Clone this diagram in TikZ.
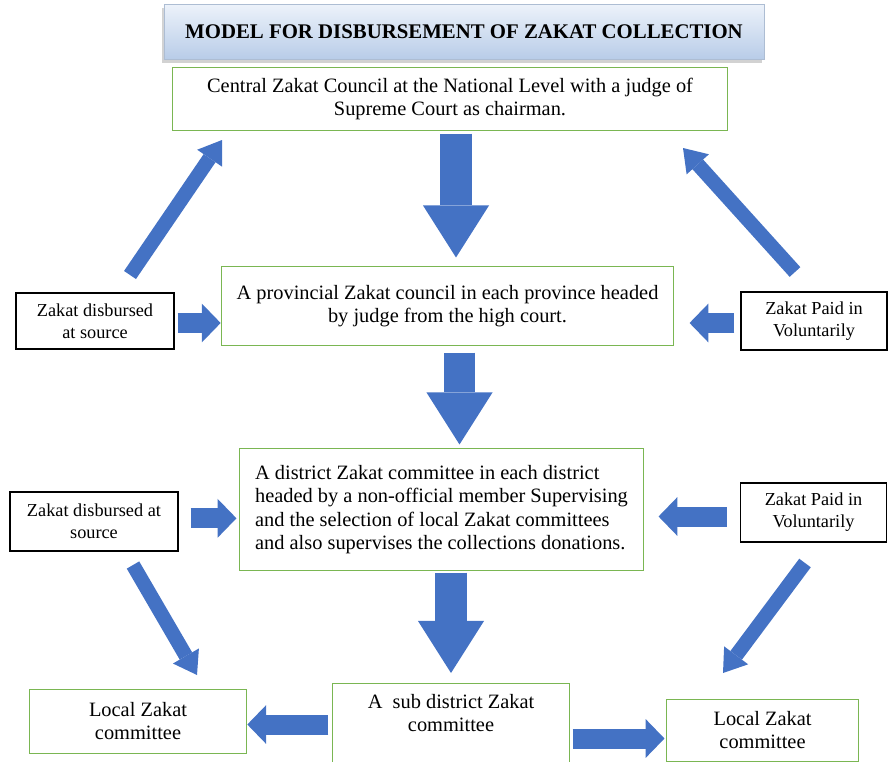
\documentclass[tikz,border=0pt]{standalone}
\usepackage{fontspec}
\setmainfont{Liberation Serif}
\usetikzlibrary{arrows.meta,shadows}
\definecolor{arrowblue}{RGB}{68,114,196}
\definecolor{boxgreen}{RGB}{122,182,82}
\definecolor{titletop}{RGB}{236,242,250}
\definecolor{titlebottom}{RGB}{184,204,232}

\begin{document}
\begin{tikzpicture}[x=0.025cm, y=-0.025cm,
    font=\fontsize{14.5}{16.5}\selectfont,
    title_box/.style={rectangle, draw=titlebottom!80!gray, line width=0.6pt, top color=titletop, bottom color=titlebottom,
        drop shadow={shadow xshift=-0.06cm, shadow yshift=-0.08cm, fill=black!35}, font=\fontsize{14.8}{16}\selectfont\bfseries},
    green_box/.style={rectangle, draw=boxgreen, line width=0.7pt, align=center, fill=white},
    black_box/.style={rectangle, draw=black, line width=0.9pt, align=center, fill=white, font=\fontsize{13}{15.5}\selectfont},
    big_arrow/.style={draw=arrowblue, line width=0.78cm, -{Triangle[length=1.3cm, width=1.65cm, line width=0pt]}},
    mid_arrow/.style={draw=arrowblue, line width=0.5cm, -{Triangle[length=0.47cm, width=0.97cm, line width=0pt]}},
    thin_arrow/.style={draw=arrowblue, line width=0.36cm, -{Triangle[length=0.55cm, width=0.75cm, line width=0pt]}}]
    \useasboundingbox (0,0) rectangle (888,762);

    \node[title_box, minimum width=15cm, minimum height=1.375cm] (title) at (464,32) {MODEL FOR DISBURSEMENT OF ZAKAT COLLECTION};

    \node[green_box, minimum width=13.85cm, minimum height=1.55cm] (central) at (450,99) {Central Zakat Council at the National Level with a judge of\\Supreme Court as chairman.};
    \node[green_box, minimum width=11.275cm, minimum height=1.95cm] (prov) at (447.5,306) {A provincial Zakat council in each province headed\\by judge from the high court.};
    \node[black_box, minimum width=3.95cm, minimum height=1.4cm] (left1) at (95,321) {Zakat disbursed\\at source};
    \node[black_box, minimum width=3.65cm, minimum height=1.45cm] (right1) at (814,321) {Zakat Paid in\\Voluntarily};

    \node[green_box, align=left, minimum width=10.075cm, minimum height=3.025cm] (district) at (441.5,509.5) {A district Zakat committee in each district\\headed by a non-official member Supervising\\and the selection of local Zakat committees\\and also supervises the collections donations.};
    \node[black_box, minimum width=4.2cm, minimum height=1.475cm] (left2) at (94,521.5) {Zakat disbursed at\\source};
    \node[black_box, minimum width=3.65cm, minimum height=1.475cm] (right2) at (813.5,512.5) {Zakat Paid in\\Voluntarily};

    \node[green_box, minimum width=5.4cm, minimum height=1.6cm] (localL) at (138,721) {Local Zakat\\committee};
    \node[green_box, minimum width=5.9cm, minimum height=2.3cm, anchor=north] (sub) at (451,683) {};
    \node[anchor=north, align=center] (sub_text) at ([yshift=-0.15cm]sub.north) {A~ sub district Zakat\\committee};
    \node[green_box, minimum width=4.775cm, minimum height=1.55cm] (localR) at (762.5,730) {Local Zakat\\committee};

    \coordinate (l1_from) at (130,275);
    \coordinate (l1_to) at (222,140);
    \coordinate (r1_from) at (795,272);
    \coordinate (r1_to) at (683,148);
    \coordinate (l2_from) at (133,565);
    \coordinate (l2_to) at (197,675);
    \coordinate (r2_from) at (805,563);
    \coordinate (r2_to) at (723,673);

    \draw[big_arrow, shorten <=0.075cm, shorten >=0.225cm] ([xshift=0.15cm]central.south) -- ([xshift=0.15cm]central.south |- prov.north);
    \draw[big_arrow, shorten <=0.175cm, shorten >=0.1cm] ([xshift=0.3cm]prov.south) -- ([xshift=0.3cm]prov.south |- district.north);
    \draw[big_arrow, shorten <=0.05cm, shorten >=0.25cm] (sub.north |- district.south) -- (sub.north);

    \draw[mid_arrow, shorten <=0.075cm, shorten >=0.02cm] ([yshift=-0.05cm]left1.east) -- ([yshift=-0.05cm]left1.east -| prov.west);
    \draw[mid_arrow, shorten <=0.15cm, shorten >=0.4cm] ([yshift=-0.05cm]right1.west) -- ([yshift=-0.05cm]right1.west -| prov.east);
    \draw[mid_arrow, shorten <=0.3cm, shorten >=0.075cm] ([yshift=0.08cm]left2.east) -- ([yshift=0.08cm]left2.east -| district.west);
    \draw[mid_arrow, shorten <=0.325cm, shorten >=0.375cm] ([yshift=-0.1cm]right2.west) -- ([yshift=-0.1cm]right2.west -| district.east);
    \draw[mid_arrow, shorten <=0.1cm, shorten >=0.02cm] ([yshift=0.125cm]sub.west) -- ([yshift=0.125cm]sub.west -| localL.east);
    \draw[mid_arrow, shorten <=0.075cm, shorten >=0.05cm] ([yshift=-0.225cm]sub.east) -- ([yshift=-0.225cm]sub.east -| localR.west);

    \draw[thin_arrow] (l1_from) -- (l1_to);
    \draw[thin_arrow] (r1_from) -- (r1_to);
    \draw[thin_arrow] (l2_from) -- (l2_to);
    \draw[thin_arrow] (r2_from) -- (r2_to);
\end{tikzpicture}
\end{document}
